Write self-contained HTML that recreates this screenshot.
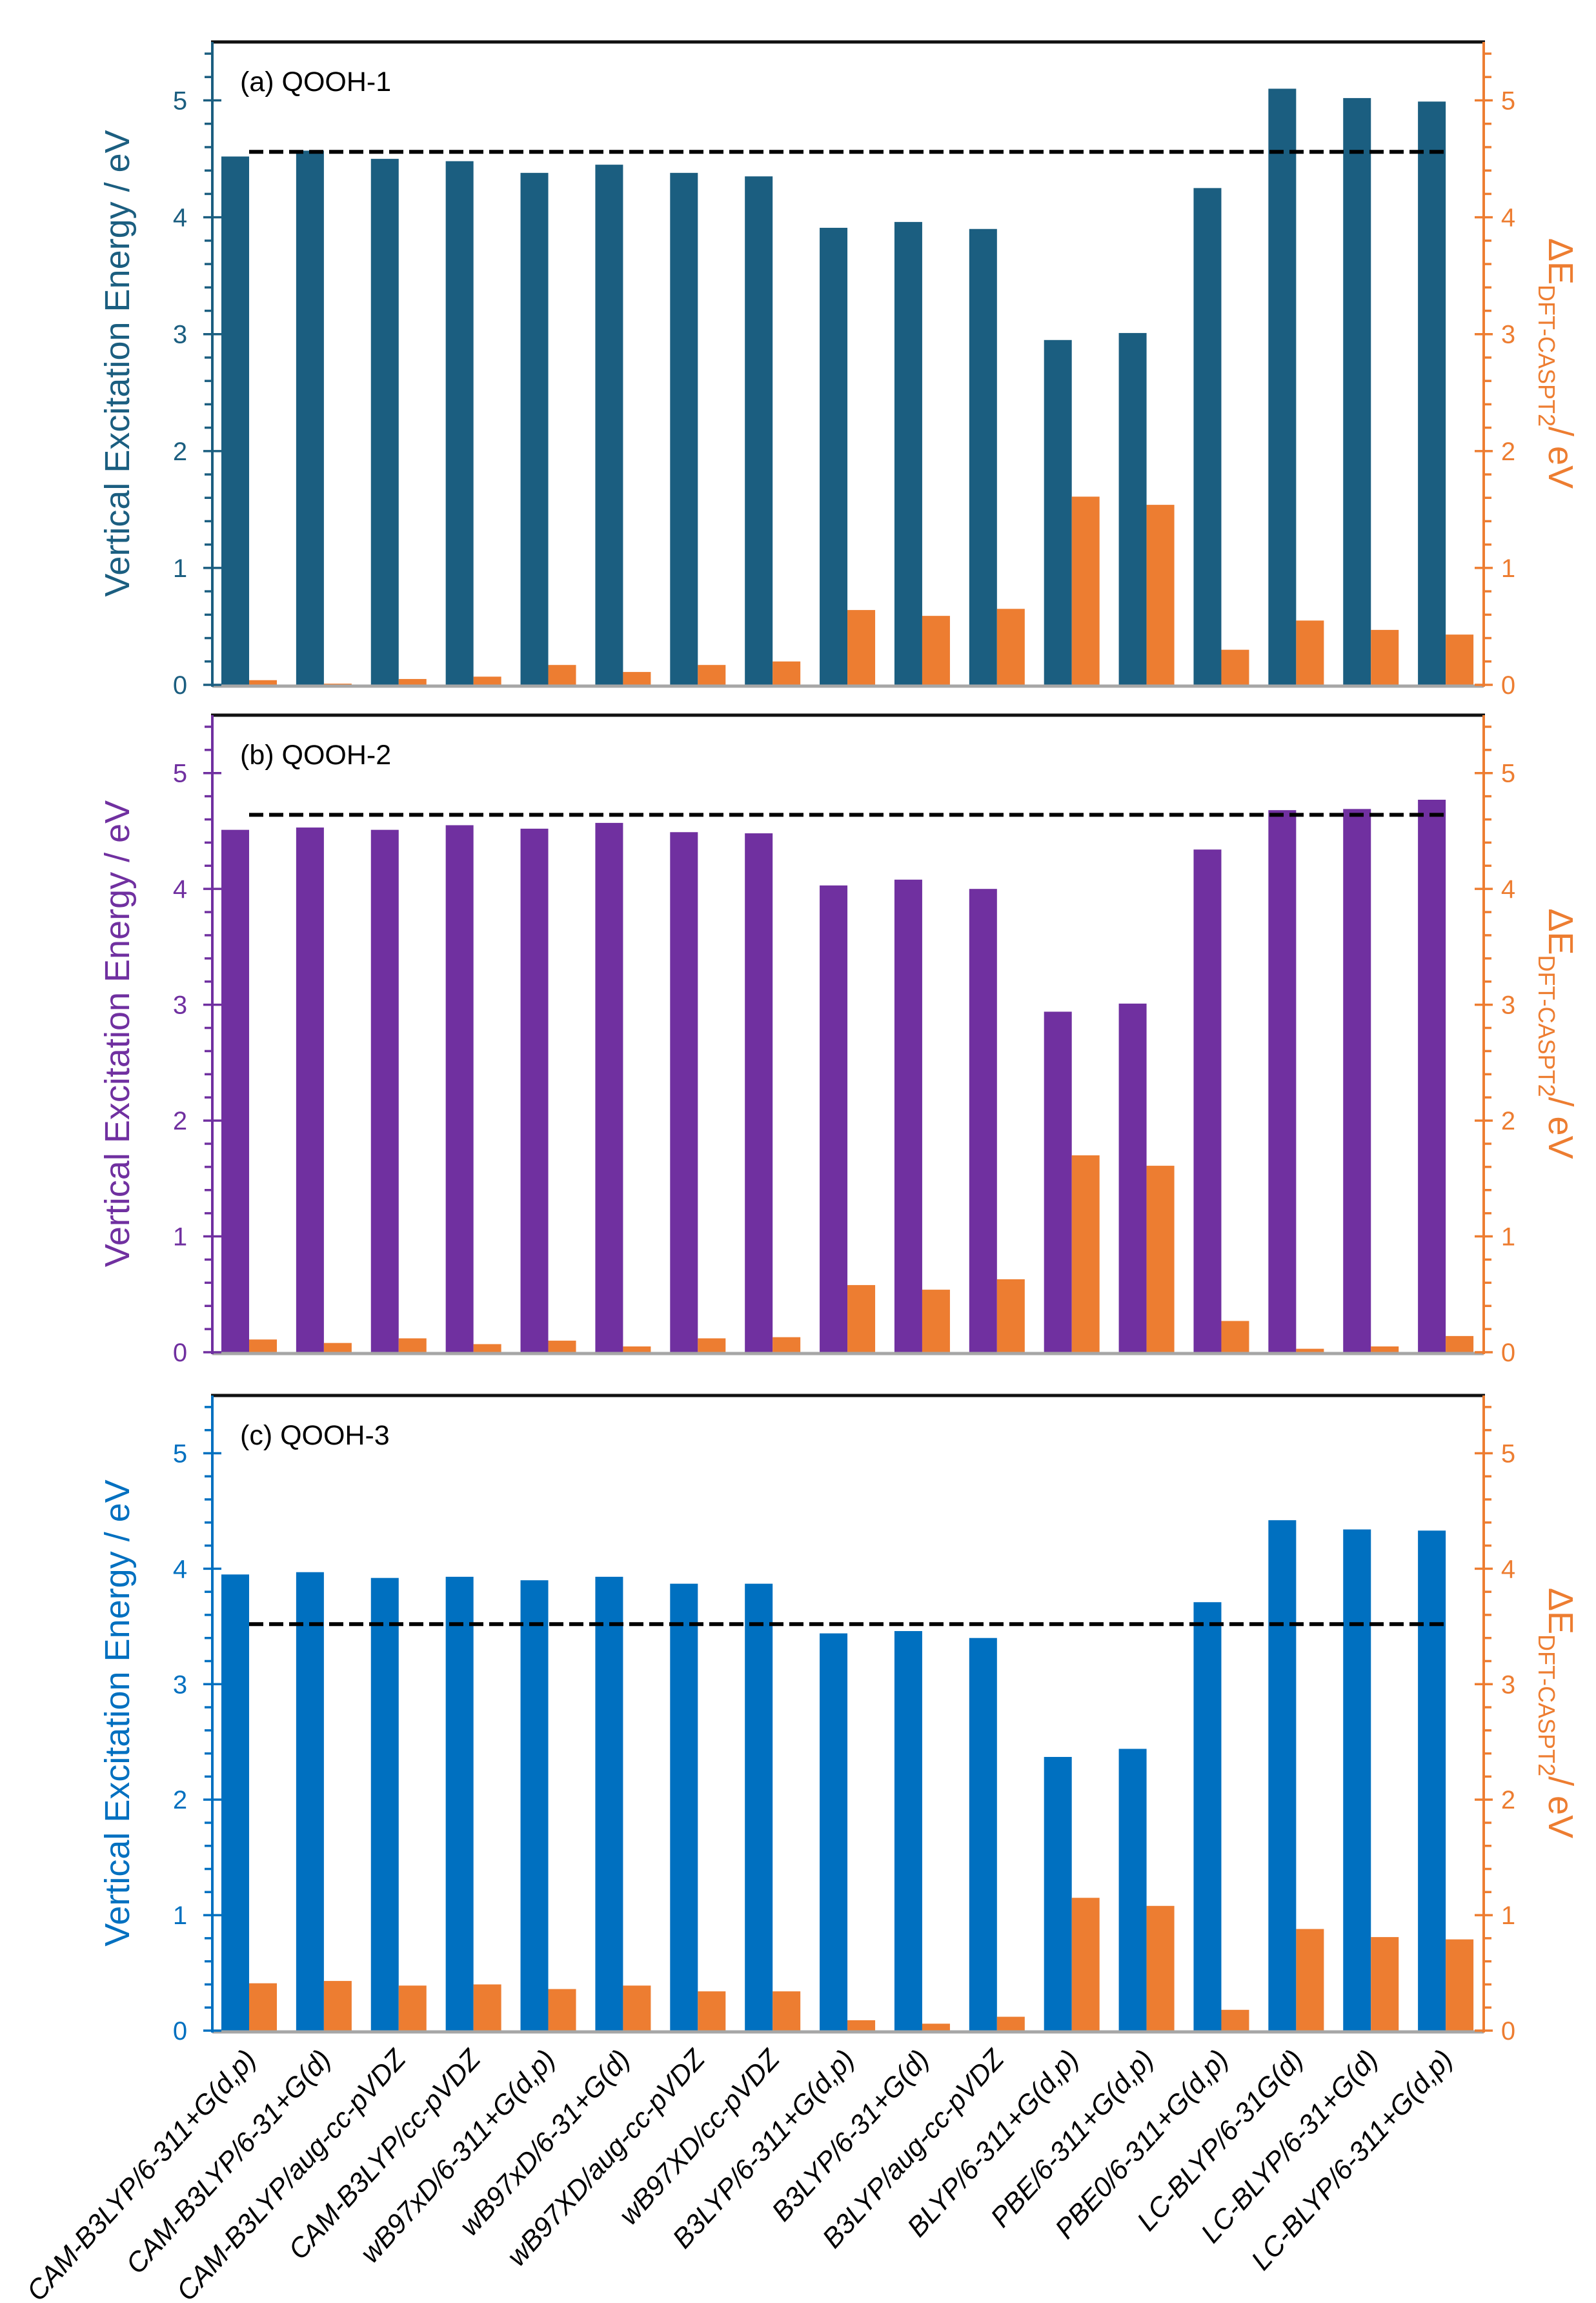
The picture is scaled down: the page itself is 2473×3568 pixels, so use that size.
<!DOCTYPE html>
<html><head><meta charset="utf-8"><style>
html,body{margin:0;padding:0;background:#fff;}
svg{display:block;font-family:"Liberation Sans",sans-serif;}
</style></head><body>
<svg id="chart" width="2473" height="3568" viewBox="0 0 2473 3568" xmlns="http://www.w3.org/2000/svg"></svg>
<script>
const categories = ["CAM-B3LYP/6-311+G(d,p)","CAM-B3LYP/6-31+G(d)","CAM-B3LYP/aug-cc-pVDZ","CAM-B3LYP/cc-pVDZ","wB97xD/6-311+G(d,p)","wB97xD/6-31+G(d)","wB97XD/aug-cc-pVDZ","wB97XD/cc-pVDZ","B3LYP/6-311+G(d,p)","B3LYP/6-31+G(d)","B3LYP/aug-cc-pVDZ","BLYP/6-311+G(d,p)","PBE/6-311+G(d,p)","PBE0/6-311+G(d,p)","LC-BLYP/6-31G(d)","LC-BLYP/6-31+G(d)","LC-BLYP/6-311+G(d,p)"];
const energyA = [4.52,4.57,4.50,4.48,4.38,4.45,4.38,4.35,3.91,3.96,3.90,2.95,3.01,4.25,5.10,5.02,4.99];
const deltaA  = [0.04,0.01,0.05,0.07,0.17,0.11,0.17,0.20,0.64,0.59,0.65,1.61,1.54,0.30,0.55,0.47,0.43];
const refA = 4.56;
const energyB = [4.51,4.53,4.51,4.55,4.52,4.57,4.49,4.48,4.03,4.08,4.00,2.94,3.01,4.34,4.68,4.69,4.77];
const deltaB  = [0.11,0.08,0.12,0.07,0.10,0.05,0.12,0.13,0.58,0.54,0.63,1.70,1.61,0.27,0.03,0.05,0.14];
const refB = 4.64;
const energyC = [3.95,3.97,3.92,3.93,3.90,3.93,3.87,3.87,3.44,3.46,3.40,2.37,2.44,3.71,4.42,4.34,4.33];
const deltaC  = [0.41,0.43,0.39,0.40,0.36,0.39,0.34,0.34,0.09,0.06,0.12,1.15,1.08,0.18,0.88,0.81,0.79];
const refC = 3.52;
const tickLabels = ["0","1","2","3","4","5"];
const panelTitles = ["(a) QOOH-1","(b) QOOH-2","(c) QOOH-3"];

const NS="http://www.w3.org/2000/svg";
const svg=document.getElementById('chart');
function mk(tag,attrs,parent){const e=document.createElementNS(NS,tag);for(const k in attrs)e.setAttribute(k,attrs[k]);(parent||svg).appendChild(e);return e;}

const X0=329,X1=2299,YMAX=5.5;
const panels=[
 {top:65,zero:1061,color:"#1b5e80",energy:energyA,delta:deltaA,ref:refA,title:panelTitles[0],key:"a"},
 {top:1108,zero:2095,color:"#7030a0",energy:energyB,delta:deltaB,ref:refB,title:panelTitles[1],key:"b"},
 {top:2162,zero:3146,color:"#0070c0",energy:energyC,delta:deltaC,ref:refC,title:panelTitles[2],key:"c"}
];
const ORANGE="#ed7d31";
const groupW=(X1-X0)/categories.length;
function xBand(i){return X0+i*groupW;}

panels.forEach((p)=>{
  const g=mk('g',{});
  
  
  const y=v=>p.zero-(p.zero-p.top)*v/YMAX;
  p.energy.forEach((v,i)=>{
    const bx=xBand(i)+14;
    const r=mk('rect',{x:bx,y:y(v),width:43,height:p.zero-y(v),fill:p.color},g);
    
    
  });
  p.delta.forEach((v,i)=>{
    const bx=xBand(i)+57;
    const r=mk('rect',{x:bx,y:y(v),width:43,height:Math.max(p.zero-y(v),1),fill:ORANGE},g);
    
    
  });
  const bl=mk('line',{x1:X0,x2:X1,y1:p.zero+2,y2:p.zero+2,stroke:"#a6a6a6","stroke-width":5},g);
  
  
  const tb=mk('line',{x1:X0-2,x2:X1+2,y1:p.top,y2:p.top,stroke:"#111","stroke-width":5},g);
  
  
  const dl=mk('line',{x1:xBand(0)+57,x2:xBand(categories.length-1)+57,y1:y(p.ref),y2:y(p.ref),stroke:"#000","stroke-width":6,"stroke-dasharray":"22 9"},g);
  
  
  const la=mk('line',{x1:X0,x2:X0,y1:p.top,y2:p.zero+3,stroke:p.color,"stroke-width":4},g);
  
  
  const ra=mk('line',{x1:X1,x2:X1,y1:p.top,y2:p.zero+3,stroke:ORANGE,"stroke-width":4},g);
  
  
  for(let k=0;k<=27;k++){
    const v=k*0.2, yy=y(v), major=(k%5===0);
    mk('line',{x1:major?X0-14:X0-12,x2:major?X0+14:X0,y1:yy,y2:yy,stroke:p.color,"stroke-width":3.5},g);
    mk('line',{x1:major?X1-14:X1,x2:major?X1+14:X1+12,y1:yy,y2:yy,stroke:ORANGE,"stroke-width":3.5},g);
  }
  tickLabels.forEach((t,k)=>{
    const tl=mk('text',{x:X0-50,y:y(+t)+14,"font-size":40,fill:p.color,"text-anchor":"middle"},g);
    tl.textContent=t;
    
    
    const tr=mk('text',{x:X1+38,y:y(+t)+14,"font-size":40,fill:ORANGE,"text-anchor":"middle"},g);
    tr.textContent=t;
    
    
  });
  const pt=mk('text',{x:372,y:p.top+76,"font-size":43,fill:"#000"},g);
  pt.textContent=p.title;
  
  
  const cy=(p.top+p.zero)/2;
  const lt=mk('text',{x:0,y:0,"font-size":54,fill:p.color,"text-anchor":"middle",transform:`translate(200,${cy}) rotate(-90)`},g);
  lt.textContent="Vertical Excitation Energy / eV";
  
  
  const rt=mk('text',{x:0,y:0,"font-size":54,fill:ORANGE,"text-anchor":"middle",transform:`translate(2400,${cy}) rotate(90)`},g);
  
  
  const s1=mk('tspan',{},rt);s1.textContent="ΔE";
  const s2=mk('tspan',{"font-size":36,dy:16},rt);s2.textContent="DFT-CASPT2";
  const s3=mk('tspan',{dy:-16},rt);s3.textContent="/ eV";
});

categories.forEach((c,i)=>{
  const cx=xBand(i)+groupW/2+12, cy=3192;
  const t=mk('text',{x:0,y:0,"font-size":43,"font-style":"italic",fill:"#000","text-anchor":"end",transform:`translate(${cx},${cy}) rotate(-48)`});
  t.textContent=c;
  
  
});
</script>
</body></html>
